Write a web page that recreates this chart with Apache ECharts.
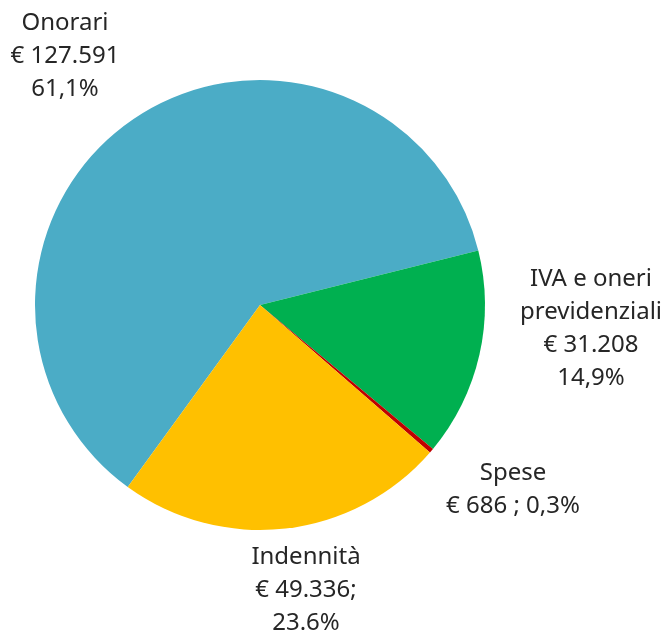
<!DOCTYPE html>
<html>
<head>
<meta charset="utf-8">
<script src="https://cdn.jsdelivr.net/npm/echarts@6/dist/echarts.min.js"></script>
<style>
  html, body { margin: 0; padding: 0; background: #fff; }
  #chart { width: 661px; height: 632px; }
</style>
</head>
<body>
<div id="chart"></div>
<script>
// Ripartizione dei costi (euro)
const categories = ['Onorari', 'IVA e oneri\nprevidenziali', 'Spese', 'Indennità'];
const values = [127591, 31208, 686, 49336];
const colors = ['#4BACC6', '#00B050', '#C00000', '#FFC000'];

// Label text templates: {name}, {eur}, {pct}
const labelTemplates = [
  '{name}\n€ {eur}\n{pct}%',
  '{name}\n€ {eur}\n{pct}%',
  '{name}\n€ {eur} ; {pct}%',
  '{name}\n€ {eur};\n{pct}%'
];
const decimalSep = [',', ',', ',', '.'];

// Label block centres (px)
const labelPos = [[65, 56], [591, 329], [513, 490], [306, 590]];

const total = values.reduce((a, b) => a + b, 0);
function fmtEur(v) {
  return String(v).replace(/\B(?=(\d{3})+(?!\d))/g, '.');
}

const chart = echarts.init(document.getElementById('chart'), null, { renderer: 'canvas' });
chart.setOption({
  animation: false,
  backgroundColor: '#ffffff',
  series: [{
    type: 'pie',
    center: [260, 305],
    radius: 225,
    startAngle: 234,
    clockwise: true,
    avoidLabelOverlap: false,
    itemStyle: { borderWidth: 0 },
    label: {
      show: true,
      position: 'outside',
      fontFamily: 'Noto Sans',
      fontSize: 24,
      lineHeight: 33,
      color: '#262626',
      align: 'center',
      formatter: function (p) {
        const i = p.dataIndex;
        const pct = (values[i] / total * 100).toFixed(1).replace('.', decimalSep[i]);
        return labelTemplates[i]
          .replace('{name}', categories[i])
          .replace('{eur}', fmtEur(values[i]))
          .replace('{pct}', pct);
      }
    },
    labelLine: { show: false },
    labelLayout: function (params) {
      const pos = labelPos[params.dataIndex];
      return { x: pos[0], y: pos[1], align: 'center', verticalAlign: 'middle' };
    },
    data: categories.map((c, i) => ({
      name: c,
      value: values[i],
      itemStyle: { color: colors[i] }
    }))
  }]
});
</script>
</body>
</html>
